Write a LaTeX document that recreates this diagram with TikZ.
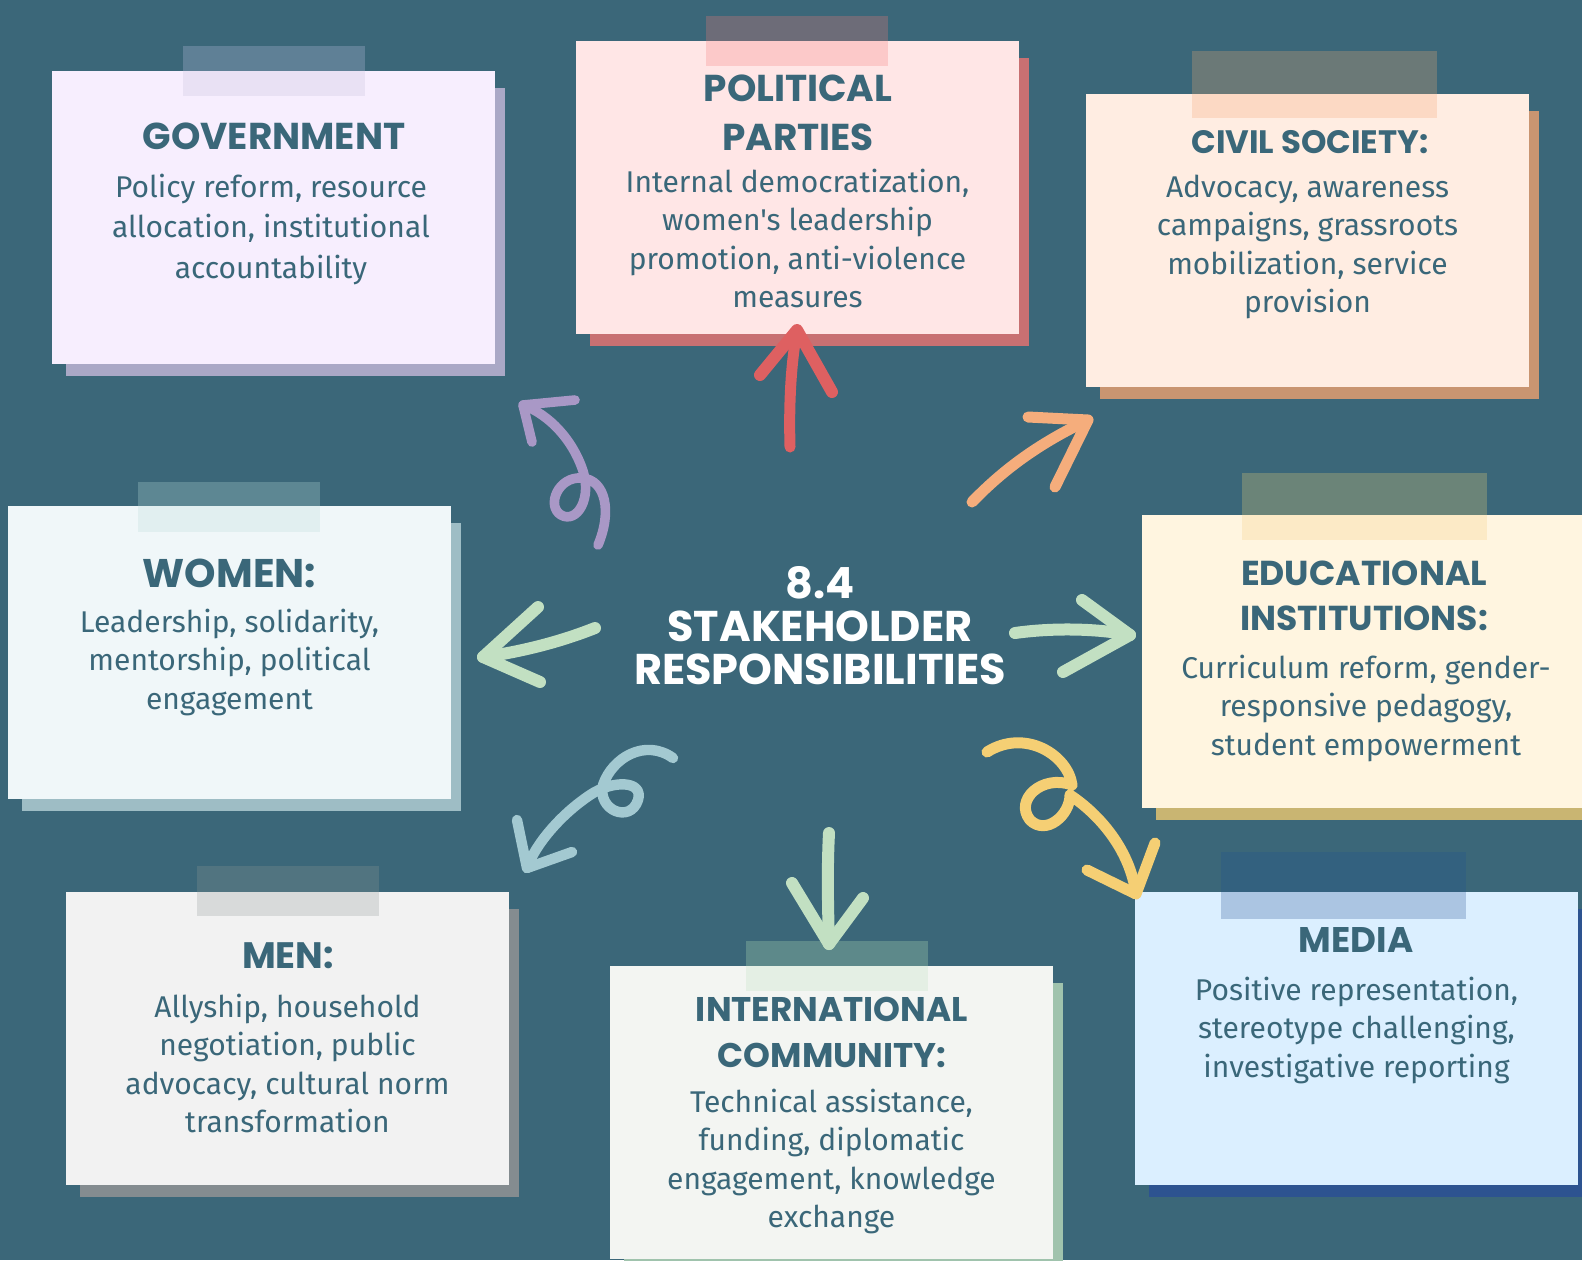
\documentclass[tikz,border=0pt]{standalone}
\usepackage{fontspec}
\newfontfamily\titlefont{Poppins Bold}
\newfontfamily\bodyfont{Fira Sans}
\definecolor{bgc}{HTML}{3B6779}
\definecolor{txtc}{HTML}{3A6779}
\definecolor{govbox}{HTML}{F7EEFE}\definecolor{govsh}{HTML}{AAA8C6}\definecolor{govta}{HTML}{5F8096}\definecolor{govtb}{HTML}{E9E1F4}
\definecolor{polbox}{HTML}{FFE6E6}\definecolor{polsh}{HTML}{C87072}\definecolor{polta}{HTML}{6D6C78}\definecolor{poltb}{HTML}{FCC9C9}
\definecolor{civbox}{HTML}{FFEDE2}\definecolor{civsh}{HTML}{C99571}\definecolor{civta}{HTML}{6B7977}\definecolor{civtb}{HTML}{FCD9C4}
\definecolor{edubox}{HTML}{FFF5E0}\definecolor{edush}{HTML}{C9B572}\definecolor{eduta}{HTML}{6B8478}\definecolor{edutb}{HTML}{FCEAC6}
\definecolor{medbox}{HTML}{DBEFFF}\definecolor{medsh}{HTML}{2D5390}\definecolor{medta}{HTML}{33617F}\definecolor{medtb}{HTML}{ABC5E2}
\definecolor{wombox}{HTML}{F0F7F9}\definecolor{womsh}{HTML}{9EBDC5}\definecolor{womta}{HTML}{5D8793}\definecolor{womtb}{HTML}{E1EFF0}
\definecolor{menbox}{HTML}{F2F2F2}\definecolor{mensh}{HTML}{848C90}\definecolor{menta}{HTML}{517480}\definecolor{mentb}{HTML}{D8DADA}
\definecolor{intbox}{HTML}{F3F5F2}\definecolor{intsh}{HTML}{A0C3AD}\definecolor{intta}{HTML}{5D898A}\definecolor{inttb}{HTML}{E4EFE4}
\definecolor{redA}{HTML}{DE6061}\definecolor{purA}{HTML}{A998C6}\definecolor{oraA}{HTML}{F5AD7C}
\definecolor{grnA}{HTML}{C2E0C2}\definecolor{bluA}{HTML}{A3C9D1}\definecolor{yelA}{HTML}{F5CF74}
\newcommand\lines[1]{\begin{tabular}[t]{@{}c@{}}#1\end{tabular}}
% card: name, x, y (top-left, px), box colour, shadow colour
\newcommand\drawcard[5]{%
  \fill[#5] (#2,#3) ++(14,17) rectangle ++(439,288);
  \node[card, fill=#4] (#1) at (#2,#3) {};}
% tape: x, y top, width, y bottom, y of card top, colour over background, colour over card
\newcommand\drawtape[7]{%
  \fill[#6] (#1,#2) rectangle ++(#3,#5-#2);
  \fill[#7] (#1,#5) rectangle ++(#3,#4-#5);}
\begin{document}
\begin{tikzpicture}[x=0.5pt,y=-0.5pt,
  card/.style={minimum width=221.5pt, minimum height=146.5pt, inner sep=0pt, outer sep=0pt, draw=none, anchor=north west},
  ttl/.style={text=txtc, anchor=base, inner sep=0pt},
  bdy/.style={text=txtc, anchor=base, inner sep=0pt, font=\bodyfont\fontsize{15}{19.25}\selectfont},
  handline/.style={line width=#1, line cap=round, line join=round},
  handline/.default=5.5pt]
\useasboundingbox (0,0) rectangle (1582,1260);
\clip (0,0) rectangle (1582,1260);
\fill[bgc] (0,0) rectangle (1582,1260);

% cards
\drawcard{gov}{52}{71}{govbox}{govsh}
\drawcard{pol}{576}{41}{polbox}{polsh}
\drawcard{civ}{1086}{94}{civbox}{civsh}
\drawcard{edu}{1142}{515}{edubox}{edush}
\drawcard{med}{1135}{892}{medbox}{medsh}
\drawcard{wom}{8}{506}{wombox}{womsh}
\drawcard{men}{66}{892}{menbox}{mensh}
\drawcard{int}{610}{966}{intbox}{intsh}

% tapes
\drawtape{183}{46}{182}{96}{71}{govta}{govtb}
\drawtape{706}{16}{182}{66}{41}{polta}{poltb}
\drawtape{1192}{51}{245}{118}{94}{civta}{civtb}
\drawtape{1242}{473}{245}{540}{515}{eduta}{edutb}
\drawtape{1221}{852}{245}{919}{892}{medta}{medtb}
\drawtape{138}{482}{182}{532}{506}{womta}{womtb}
\drawtape{197}{866}{182}{916}{892}{menta}{mentb}
\drawtape{746}{941}{182}{991}{966}{intta}{inttb}

% titles
\node[ttl, font=\titlefont\fontsize{18.7}{24.5}\selectfont] (govT) at (274,149) {GOVERNMENT};
\node[ttl, font=\titlefont\fontsize{18.7}{24.5}\selectfont] (polT) at (798,101) {\lines{POLITICAL\\PARTIES}};
\node[ttl, font=\titlefont\fontsize{16.2}{22}\selectfont] (civT) at (1310,153) {CIVIL SOCIETY:};
\node[ttl, font=\titlefont\fontsize{17.3}{22.5}\selectfont] (eduT) at (1364,585) {\lines{EDUCATIONAL\\INSTITUTIONS:}};
\node[ttl, font=\titlefont\fontsize{17.8}{22.5}\selectfont] (medT) at (1356,952) {MEDIA};
\node[ttl, font=\titlefont\fontsize{20}{24}\selectfont] (womT) at (229.5,587) {WOMEN:};
\node[ttl, font=\titlefont\fontsize{18.4}{24}\selectfont] (menT) at (288,968) {MEN:};
\node[ttl, font=\titlefont\fontsize{17.1}{23}\selectfont] (intT) at (832,1021) {\lines{INTERNATIONAL\\COMMUNITY:}};

% bodies
\node[bdy, font=\bodyfont\fontsize{15}{20.25}\selectfont] (govB) at (271,197) {\lines{Policy reform, resource\\allocation, institutional\\accountability}};
\node[bdy] (polB) at (797.5,192) {\lines{Internal democratization,\\women's leadership\\promotion, anti-violence\\measures}};
\node[bdy] (civB) at (1307.5,197) {\lines{Advocacy, awareness\\campaigns, grassroots\\mobilization, service\\provision}};
\node[bdy] (eduB) at (1366,678) {\lines{Curriculum reform, gender-\\responsive pedagogy,\\student empowerment}};
\node[bdy] (medB) at (1356.5,1000) {\lines{Positive representation,\\stereotype challenging,\\investigative reporting}};
\node[bdy] (womB) at (229.5,632) {\lines{Leadership, solidarity,\\mentorship, political\\engagement}};
\node[bdy] (menB) at (287.5,1017) {\lines{Allyship, household\\negotiation, public\\advocacy, cultural norm\\transformation}};
\node[bdy] (intB) at (831.5,1112) {\lines{Technical assistance,\\funding, diplomatic\\engagement, knowledge\\exchange}};

% centre title
\node[anchor=base, inner sep=0pt, text=white, font=\titlefont\fontsize{21.5}{21.25}\selectfont] (hub) at (820,598) {\lines{8.4\\STAKEHOLDER\\RESPONSIBILITIES}};

% arrow end points
\coordinate (redT) at (790,447);  \coordinate (redH) at (797,330);
\coordinate (purT) at (598,545);  \coordinate (purH) at (523,405);
\coordinate (oraT) at (972,502);  \coordinate (oraH) at (1088,420);
\coordinate (lgrT) at (595,628);  \coordinate (lgrH) at (483,657);
\coordinate (rgrT) at (1015,633); \coordinate (rgrH) at (1130,635);
\coordinate (bluT) at (673,758);  \coordinate (bluH) at (527,868);
\coordinate (yelT) at (987,752);  \coordinate (yelH) at (1136,894);
\coordinate (dgrT) at (829,833);  \coordinate (dgrH) at (829,944);

% red (up)
\draw[handline, redA] (redT) .. controls (789,410) and (790,370) .. (redH);
\draw[handline=6pt, redA] (760,375) -- (redH) -- (832,392);
% purple (curl, up-left)
\draw[handline=4.8pt, purA] (purT) .. controls (612,512) and (606,480) .. (582,478)
   .. controls (558,476) and (546,506) .. (561,515)
   .. controls (577,524) and (593,498) .. (582,468)
   .. controls (572,440) and (550,415) .. (purH);
\draw[handline=4.8pt, purA] (575,400) -- (purH) -- (532,442);
% orange (up-right)
\draw[handline, oraA] (oraT) .. controls (1005,468) and (1040,443) .. (oraH);
\draw[handline, oraA] (1028,417) -- (oraH) -- (1055,487);
% green left
\draw[handline=6pt, grnA] (lgrT) .. controls (560,642) and (520,652) .. (lgrH);
\draw[handline=6pt, grnA] (538,607) -- (lgrH) -- (540,682);
% green right
\draw[handline=6pt, grnA] (rgrT) .. controls (1050,628) and (1095,628) .. (rgrH);
\draw[handline=6pt, grnA] (1082,600) -- (rgrH) -- (1063,672);
% blue-grey (curl, down-left)
\draw[handline=5.2pt, bluA] (bluT) .. controls (645,738) and (612,758) .. (603,785)
   .. controls (597,810) and (630,824) .. (638,800)
   .. controls (644,780) and (612,780) .. (590,795)
   .. controls (560,815) and (535,845) .. (bluH);
\draw[handline=5.2pt, bluA] (517,820) -- (bluH) -- (572,852);
% yellow (curl, down-right)
\draw[handline=5.5pt, yelA] (yelT) .. controls (1025,728) and (1068,755) .. (1072,785)
   .. controls (1042,774) and (1014,800) .. (1030,820)
   .. controls (1046,836) and (1070,815) .. (1070,795)
   .. controls (1100,815) and (1130,850) .. (yelH);
\draw[handline=5.5pt, yelA] (1087,870) -- (yelH) -- (1155,843);
% green down
\draw[handline=6pt, grnA] (dgrT) .. controls (827,870) and (828,910) .. (dgrH);
\draw[handline=6pt, grnA] (792,883) -- (dgrH) -- (863,898);
\end{tikzpicture}
\end{document}
